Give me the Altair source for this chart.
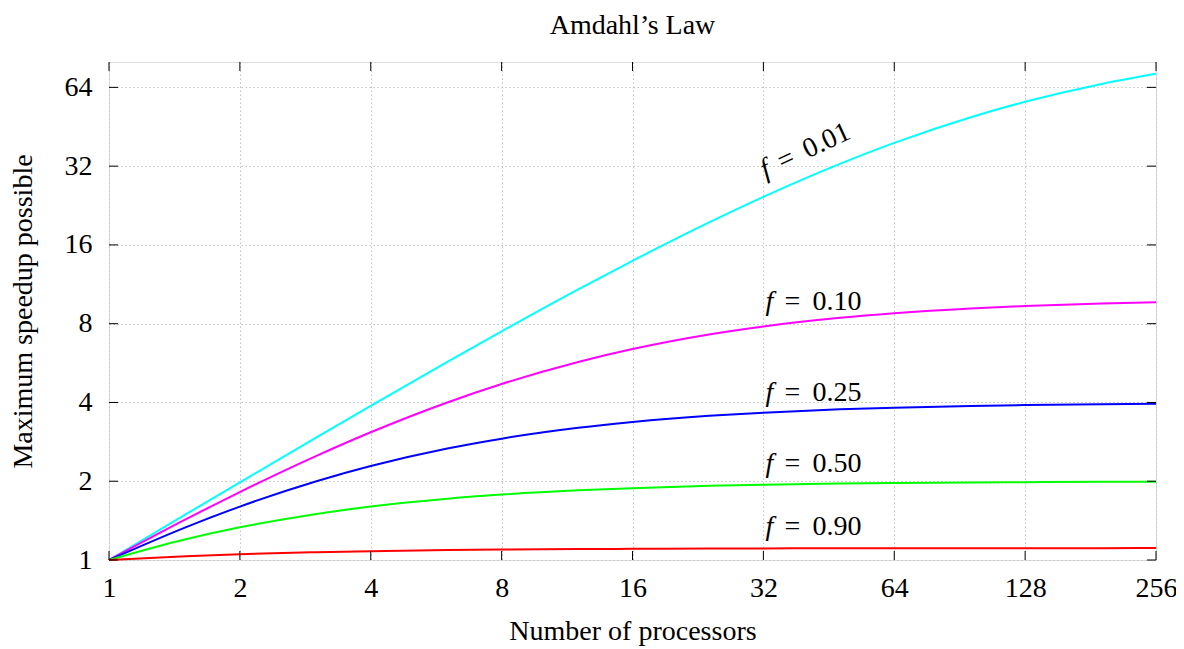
import altair as alt
import pandas as pd

# ---- data ----
procs = [1, 1.5, 2, 3, 4, 6, 8, 12, 16, 24, 32, 48, 64, 96, 128, 192, 256]
speedup_f001 = [1, 1.493, 1.980, 2.941, 3.883, 5.714, 7.477, 10.81, 13.91, 19.51, 24.43, 32.65, 39.26, 49.23, 56.39, 65.98, 72.11]
speedup_f010 = [1, 1.429, 1.818, 2.5, 3.077, 4.0, 4.706, 5.714, 6.4, 7.273, 7.805, 8.421, 8.767, 9.143, 9.343, 9.552, 9.660]
speedup_f025 = [1, 1.333, 1.6, 2.0, 2.286, 2.667, 2.909, 3.2, 3.368, 3.556, 3.657, 3.765, 3.821, 3.879, 3.908, 3.938, 3.954]
speedup_f050 = [1, 1.2, 1.333, 1.5, 1.6, 1.714, 1.778, 1.846, 1.882, 1.92, 1.939, 1.959, 1.969, 1.979, 1.984, 1.990, 1.992]
speedup_f090 = [1, 1.034, 1.053, 1.071, 1.081, 1.091, 1.096, 1.101, 1.103, 1.106, 1.107, 1.109, 1.109, 1.110, 1.110, 1.110, 1.111]

series_names = ["f = 0.01", "f = 0.10", "f = 0.25", "f = 0.50", "f = 0.90"]
series_colors = ["#00ffff", "#ff00ff", "#0000ff", "#00ff00", "#ff0000"]

x_ticks = [1, 2, 4, 8, 16, 32, 64, 128, 256]
y_ticks = [1, 2, 4, 8, 16, 32, 64]

# annotation anchors (data coordinates)
label_n = [32, 32, 32, 32]
label_s = [9.0, 4.05, 2.17, 1.25]
label_num = ["0.10", "0.25", "0.50", "0.90"]
rot_label_n = [32]
rot_label_s = [28.5]
rot_label_num = ["0.01"]

FONT = "Liberation Serif"
FS = 28
W, H = 1047, 498
TICK = 9

rows = []
for name, vals in zip(series_names, [speedup_f001, speedup_f010, speedup_f025, speedup_f050, speedup_f090]):
    for n, s in zip(procs, vals):
        rows.append({"n": n, "S": s, "f": name})
df = pd.DataFrame(rows)

xscale = alt.Scale(type="log", base=2, domain=[1, 256], nice=False)
yscale = alt.Scale(type="log", base=2, domain=[1, 80], nice=False)

xaxis = alt.Axis(values=x_ticks, format="d", title="Number of processors", grid=True,
                 gridDash=[1.5, 2.5], gridColor="#c4c4c4", gridWidth=1,
                 ticks=False, domain=False, labelFont=FONT, labelFontSize=FS,
                 labelPadding=14, labelColor="black", titleFont=FONT, titleFontSize=FS,
                 titleFontWeight="normal", titleColor="black", titlePadding=15,
                 labelFlush=False, labelOverlap=False)
yaxis = alt.Axis(values=y_ticks, format="d", title="Maximum speedup possible", grid=True,
                 gridDash=[1.5, 2.5], gridColor="#c4c4c4", gridWidth=1,
                 ticks=False, domain=False, labelFont=FONT, labelFontSize=FS,
                 labelPadding=17, labelColor="black", titleFont=FONT, titleFontSize=FS,
                 titleFontWeight="normal", titleColor="black", titlePadding=27,
                 labelFlush=False, labelOverlap=False)

X = alt.X("n:Q", scale=xscale, axis=xaxis)
Y = alt.Y("S:Q", scale=yscale, axis=yaxis)

lines = alt.Chart(df).mark_line(strokeWidth=2, interpolate="monotone").encode(
    x=X, y=Y,
    color=alt.Color("f:N", scale=alt.Scale(domain=series_names, range=series_colors), legend=None),
)

xt = pd.DataFrame({"n": x_ticks})
yt = pd.DataFrame({"S": y_ticks})
tick_b = alt.Chart(xt).mark_rule(color="black", strokeWidth=1).encode(x=X, y=alt.value(H), y2=alt.value(H - TICK))
tick_t = alt.Chart(xt).mark_rule(color="black", strokeWidth=1).encode(x=X, y=alt.value(0), y2=alt.value(TICK))
tick_l = alt.Chart(yt).mark_rule(color="black", strokeWidth=1).encode(y=Y, x=alt.value(0), x2=alt.value(TICK))
tick_r = alt.Chart(yt).mark_rule(color="black", strokeWidth=1).encode(y=Y, x=alt.value(W), x2=alt.value(W - TICK))


def label_layers(frame, angle):
    base = alt.Chart(frame)
    kw = dict(font=FONT, fontSize=FS, align="left", baseline="alphabetic", color="black", angle=angle)
    f_ = base.mark_text(text="f", fontStyle="italic", dx=2, **kw).encode(x=X, y=Y)
    eq = base.mark_text(text="=", dx=21, **kw).encode(x=X, y=Y)
    num = base.mark_text(dx=49, **kw).encode(x=X, y=Y, text="num:N")
    return [f_, eq, num]


lab = pd.DataFrame({"n": label_n, "S": label_s, "num": label_num})
rlab = pd.DataFrame({"n": rot_label_n, "S": rot_label_s, "num": rot_label_num})

chart = alt.layer(lines, tick_b, tick_t, tick_l, tick_r,
                  *label_layers(lab, 0), *label_layers(rlab, 335)).properties(
    width=W, height=H,
    title=alt.TitleParams("Amdahl\u2019s Law", font=FONT, fontSize=FS, fontWeight="normal",
                          color="black", anchor="middle", offset=22),
    padding={"left": 101, "top": 54, "right": 20, "bottom": 86},
    autosize=alt.AutoSizeParams(type="none"),
).configure_view(stroke="black", strokeWidth=1.5).configure(background="white")

chart.save("out.html", embed_options={"renderer": "svg", "actions": False})
